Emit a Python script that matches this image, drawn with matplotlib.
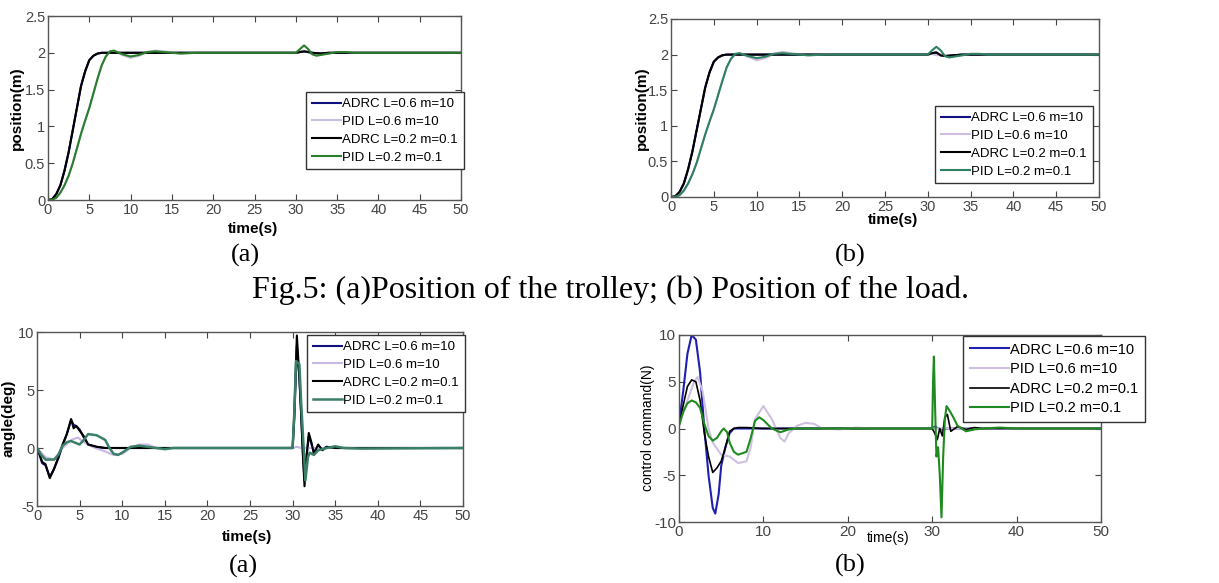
import matplotlib.pyplot as plt
import numpy as np

plt.rcParams["font.family"] = ["Liberation Sans", "DejaVu Sans"]

LABELS = ["ADRC L=0.6 m=10", "PID L=0.6 m=10", "ADRC L=0.2 m=0.1", "PID L=0.2 m=0.1"]

# ---- (top a) trolley position ----
pt_t_adrc = [0, 0.5, 1, 1.5, 2, 2.5, 3, 3.5, 4, 4.5, 5, 5.5, 6, 6.5, 7, 8, 10,
             30, 30.5, 31, 31.5, 32, 33, 34, 35, 50]
pt_adrc = [0, 0.01, 0.08, 0.2, 0.4, 0.65, 0.95, 1.25, 1.55, 1.75, 1.9, 1.96, 1.99,
           2.0, 2.0, 2.0, 2.0, 2.0, 2.01, 2.02, 2.01, 2.0, 1.99, 2.0, 2.0, 2.0]
pt_t_pid = [0, 0.5, 1, 1.5, 2, 2.5, 3, 3.5, 4, 4.5, 5, 5.5, 6, 6.5, 7, 7.5, 8, 9,
            10, 11, 12, 13, 14, 16, 18, 20, 30, 30.5, 31, 31.5, 32, 32.5, 33, 34,
            35, 36, 37, 50]
pt_pid06 = [0, 0.005, 0.03, 0.1, 0.2, 0.33, 0.5, 0.7, 0.9, 1.08, 1.25, 1.45, 1.65,
            1.83, 1.95, 2.01, 2.02, 1.97, 1.93, 1.96, 2.01, 2.03, 2.02, 1.99, 2.0,
            2.0, 2.0, 2.02, 2.03, 2.01, 1.98, 1.97, 1.98, 1.99, 2.01, 2.01, 2.0, 2.0]
pt_pid02 = [0, 0.005, 0.03, 0.1, 0.2, 0.33, 0.5, 0.7, 0.9, 1.08, 1.25, 1.45, 1.65,
            1.83, 1.95, 2.02, 2.03, 1.98, 1.95, 1.97, 2.01, 2.02, 2.01, 1.99, 2.0,
            2.0, 2.0, 2.05, 2.1, 2.05, 1.98, 1.96, 1.97, 1.99, 2.01, 2.01, 2.0, 2.0]

# ---- (top b) load position ----
pl_adrc = [0, 0.01, 0.07, 0.19, 0.39, 0.64, 0.94, 1.24, 1.54, 1.75, 1.9, 1.96, 1.99,
           2.0, 2.0, 2.0, 2.0, 2.0, 2.02, 2.03, 1.99, 1.98, 1.99, 2.0, 2.0, 2.0]
pl_pid06 = [0, 0.004, 0.025, 0.09, 0.19, 0.32, 0.48, 0.68, 0.88, 1.06, 1.23, 1.43,
            1.63, 1.82, 1.94, 2.0, 2.02, 1.97, 1.92, 1.95, 2.01, 2.04, 2.02, 1.99,
            2.0, 2.0, 2.0, 2.01, 1.99, 2.0, 1.98, 1.97, 1.98, 1.99, 2.01, 2.01, 2.0, 2.0]
pl_pid02 = [0, 0.004, 0.025, 0.09, 0.19, 0.32, 0.48, 0.68, 0.88, 1.06, 1.23, 1.43,
            1.63, 1.82, 1.94, 2.01, 2.02, 1.98, 1.95, 1.97, 2.01, 2.02, 2.01, 1.99,
            2.0, 2.0, 2.0, 2.06, 2.11, 2.06, 1.98, 1.96, 1.97, 1.99, 2.01, 2.01, 2.0, 2.0]

# ---- (bottom a) angle ----
ang_t_adrc = [0, 0.3, 0.6, 1, 1.5, 2, 2.5, 3, 3.5, 4, 4.3, 4.6, 5, 5.5, 6, 7, 8,
              10, 30, 30.2, 30.5, 30.8, 31, 31.2, 31.4, 31.6, 31.9, 32.2, 32.5,
              33, 33.5, 34, 35, 50]
ang_adrc06 = [0, -0.6, -1.3, -1.5, -2.5, -1.8, -0.9, 0.2, 1.2, 2.4, 2.0, 1.9, 1.6,
              0.9, 0.3, 0.1, 0, 0, 0, 2.5, 8.8, 6.0, 3.0, -0.3, -2.8, -1.0, 1.0,
              0.4, -0.4, 0.2, -0.1, 0.1, 0, 0]
ang_adrc02 = [0, -0.5, -1.2, -1.4, -2.6, -1.8, -0.8, 0.3, 1.2, 2.5, 1.7, 1.9, 1.5,
              1.0, 0.3, 0.1, 0, 0, 0, 3.0, 9.7, 6.0, 3.0, -0.5, -3.3, -1.0, 1.3,
              0.5, -0.5, 0.3, -0.2, 0.1, 0, 0]
ang_t_pid06 = [0, 1, 2, 3, 4, 4.8, 5.5, 6.5, 8, 9, 10, 11, 12, 13, 14, 16, 30,
               30.5, 31, 32, 50]
ang_pid06 = [0, -0.8, -1.0, 0, 0.7, 0.9, 0.5, 0.1, -0.3, -0.6, -0.5, 0, 0.3, 0.3,
             0, 0, 0, 0.1, 0, 0, 0]
ang_t_pid02 = [0, 0.5, 1, 2, 2.5, 3, 3.5, 4, 5, 5.5, 6, 7, 8, 8.5, 9, 9.5, 10, 11,
               12, 13, 14, 15, 16, 30, 30.2, 30.4, 30.8, 31, 31.3, 31.5, 31.8, 32,
               32.5, 33, 34, 35, 36, 38, 50]
ang_pid02 = [0, -0.6, -1.0, -1.0, -0.6, 0.2, 0.5, 0.6, 0.3, 0.7, 1.2, 1.1, 0.7, 0,
             -0.5, -0.6, -0.4, 0.1, 0.2, 0.1, 0, -0.1, 0, 0, 3.0, 7.5, 7.2, 4.0, 0,
             -2.8, -0.8, -0.4, -0.6, -0.2, 0, 0.15, 0, -0.05, 0]

# ---- (bottom b) control command ----
u_t_adrc06 = [0, 0.5, 1, 1.5, 2, 2.5, 3, 3.5, 4, 4.3, 4.7, 5, 5.5, 6, 6.5, 7, 10,
              30, 30.3, 31, 32, 50]
u_adrc06 = [0.5, 4, 8, 10, 9.5, 6, 0, -5, -8.5, -9.1, -7, -4, -2, -0.5, 0, 0, 0,
            0, 0.2, -0.1, 0, 0]
u_t_pid06 = [0, 1, 1.8, 2.2, 2.8, 3.5, 4, 5, 6, 7, 8, 8.5, 9, 10, 11, 12, 12.5,
             13, 14, 15, 16, 17, 19, 21, 23, 30, 50]
u_pid06 = [0.3, 3, 5, 5.5, 4, 0, -1.5, -2.8, -3.0, -3.7, -3.5, -2, 1, 2.4, 1, -1,
           -1.4, -0.5, 0.3, 0.6, 0.5, 0, -0.1, 0.1, 0, 0, 0]
u_t_adrc02 = [0, 0.5, 1, 1.5, 2, 2.5, 3, 3.5, 4, 4.5, 5, 5.5, 6, 6.5, 7, 8, 10, 30,
              30.3, 30.6, 30.9, 31.2, 31.5, 31.8, 32.2, 33, 34, 35, 36, 50]
u_adrc02 = [0.3, 2.5, 4.5, 5.2, 5, 3, -0.5, -3, -4.7, -4.2, -3.5, -2, -0.3, 0, 0.1,
            0.1, 0, 0, -0.5, -1.2, 0, -0.8, 1.2, 1.5, -0.3, 0.2, -0.1, 0.1, 0, 0]
u_t_pid02 = [0, 0.5, 1, 1.5, 2, 2.5, 3, 3.5, 4, 4.5, 5, 5.3, 5.7, 6, 6.5, 7, 8,
             8.5, 9, 9.5, 10, 11, 12, 13, 14, 30, 30.1, 30.2, 30.35, 30.5, 30.7,
             30.9, 31.1, 31.3, 31.5, 31.7, 32, 32.5, 33, 34, 35, 36, 38, 40, 50]
u_pid02 = [0.3, 1.8, 2.7, 3, 2.8, 2.2, 0.5, -0.8, -1.3, -1, -0.3, 0, -0.4, -1.5,
           -2.5, -2.8, -2.5, -1, 0.8, 1.2, 0.9, 0, -0.4, -0.1, 0, 0, 5, 7.7, 2,
           -3, -2, -5, -9.5, -3, 1, 2.4, 2, 1.2, 0.3, -0.3, -0.1, 0, 0.1, 0, 0]

W, H = 1219, 583
SANS = ["Liberation Sans", "DejaVu Sans"]


def rect(x0, y0, x1, y1):
    return [x0 / W, 1 - y1 / H, (x1 - x0) / W, (y1 - y0) / H]


def style(ax, xt, yt, ylim, fs=10.5):
    ax.set_xlim(0, 50)
    ax.set_ylim(*ylim)
    ax.set_xticks(xt)
    ax.set_yticks(yt)
    ax.set_xticklabels([f"{v:g}" for v in xt])
    ax.set_yticklabels([f"{v:g}" for v in yt])
    ax.tick_params(direction="in", top=True, right=True, labelsize=fs,
                   colors="#444444", length=4, pad=2)
    for s in ax.spines.values():
        s.set_color("#555555")
        s.set_linewidth(1.0)


def legend(ax, x0, y0, fs=9.5, hl=2.2, lsp=0.42):
    ax.legend(LABELS, loc="upper left", bbox_to_anchor=(x0 / W, 1 - y0 / H),
              bbox_transform=fig.transFigure, prop={"size": fs, "family": SANS},
              fancybox=False, framealpha=1, edgecolor="#333333", borderaxespad=0,
              handlelength=hl, handletextpad=0.1, labelspacing=lsp,
              borderpad=0.45)


def label(x, y, s, fs=11, bold=True, rot=0):
    fig.text(x / W, 1 - y / H, s, ha="center", va="center", fontsize=fs,
             fontweight="bold" if bold else "normal", rotation=rot, family=SANS)


fig = plt.figure(figsize=(W / 100, H / 100), dpi=100)

# top (a)
ax1 = fig.add_axes(rect(48, 16, 461, 200))
ax1.plot(pt_t_adrc, pt_adrc, color="#101080", lw=1.5)
ax1.plot(pt_t_pid, pt_pid06, color="#c8c0e0", lw=1.5)
ax1.plot(pt_t_adrc, pt_adrc, color="black", lw=1.5)
ax1.plot(pt_t_pid, pt_pid02, color="#2a7d2a", lw=1.5)
style(ax1, range(0, 51, 5), [0, 0.5, 1, 1.5, 2, 2.5], (0, 2.5))
legend(ax1, 306, 92)
label(17, 108, "position(m)", rot=90)
label(253, 229, "time(s)")

# top (b)
ax2 = fig.add_axes(rect(671, 19, 1099, 197))
ax2.plot(pt_t_adrc, pl_adrc, color="#101080", lw=1.5)
ax2.plot(pt_t_pid, pl_pid06, color="#d0bde0", lw=1.5)
ax2.plot(pt_t_adrc, pl_adrc, color="black", lw=1.5)
ax2.plot(pt_t_pid, pl_pid02, color="#2e8060", lw=1.5)
style(ax2, range(0, 51, 5), [0, 0.5, 1, 1.5, 2, 2.5], (0, 2.5))
legend(ax2, 935, 106)
label(642, 108, "position(m)", rot=90)
label(893, 220, "time(s)")

# bottom (a)
ax3 = fig.add_axes(rect(37, 332, 463, 506))
ax3.plot(ang_t_adrc, ang_adrc06, color="#101080", lw=1.5)
ax3.plot(ang_t_pid06, ang_pid06, color="#c8b8e6", lw=1.5)
ax3.plot(ang_t_adrc, ang_adrc02, color="black", lw=1.5)
ax3.plot(ang_t_pid02, ang_pid02, color="#3a8068", lw=1.8)
style(ax3, range(0, 51, 5), [-5, 0, 5, 10], (-5, 10))
legend(ax3, 307, 335)
label(9, 418, "angle(deg)", rot=90)
label(247, 537, "time(s)")

# bottom (b)
ax4 = fig.add_axes(rect(679, 335, 1101, 522))
ax4.plot(u_t_adrc06, u_adrc06, color="#2020b0", lw=1.5)
ax4.plot(u_t_pid06, u_pid06, color="#d0c0e0", lw=1.5)
ax4.plot(u_t_adrc02, u_adrc02, color="black", lw=1.2)
ax4.plot(u_t_pid02, u_pid02, color="#1f8a1f", lw=1.5)
style(ax4, range(0, 51, 10), [-10, -5, 0, 5, 10], (-10, 10), fs=11)
legend(ax4, 963, 336, fs=10.5, hl=2.7, lsp=0.38)
label(648, 428, "control command(N)", bold=False, rot=90, fs=10)
label(888, 538, "time(s)", bold=False, fs=10)

serif = ["Liberation Serif", "DejaVu Serif"]
fig.text(245 / W, 1 - 255 / H, "(a)", ha="center", va="center", fontsize=19,
         family=serif)
fig.text(850 / W, 1 - 255 / H, "(b)", ha="center", va="center", fontsize=19,
         family=serif)
fig.text(610 / W, 1 - 290 / H,
         "Fig.5: (a)Position of the trolley; (b) Position of the load.",
         ha="center", va="center", fontsize=23, family=serif)
fig.text(243 / W, 1 - 566 / H, "(a)", ha="center", va="center", fontsize=19,
         family=serif)
fig.text(850 / W, 1 - 565 / H, "(b)", ha="center", va="center", fontsize=19,
         family=serif)

fig.savefig("out.png", dpi=100)
